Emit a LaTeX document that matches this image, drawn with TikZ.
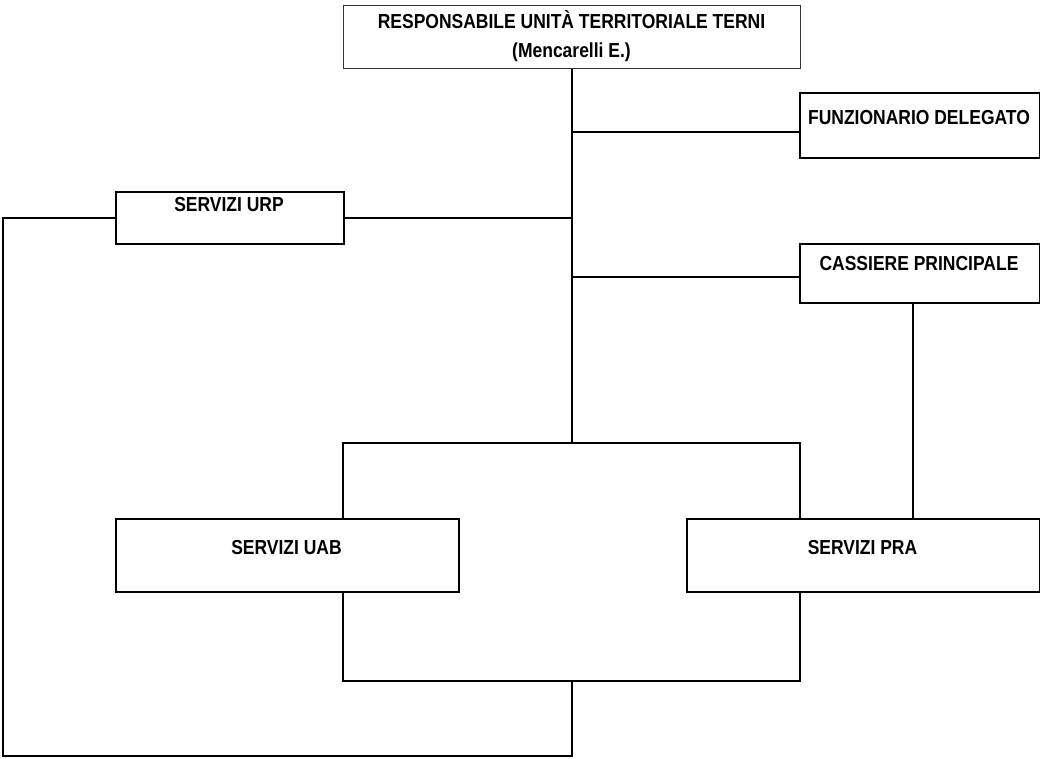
\documentclass[tikz,border=0pt]{standalone}
\usepackage{fontspec}
\setmainfont[FakeStretch=0.863]{Liberation Sans}
\begin{document}
\begin{tikzpicture}[x=0.75pt,y=-0.75pt,
  box/.style={draw=black,line width=1.5pt,inner sep=0pt,anchor=north west},
  lbl/.style={font=\fontsize{15.2}{17}\selectfont\bfseries,inner sep=0pt},
  thick line/.style={line width=2pt,line join=miter},
  thin line/.style={line width=1.4pt,line join=miter}]
\useasboundingbox (0,0) rectangle (1040,758);
% boxes
\node[box,draw=black!80,line width=1.1pt,minimum width=457*0.75pt,minimum height=63*0.75pt] (top) at (343,5) {};
\node[box,minimum width=240*0.75pt,minimum height=65*0.75pt] (funz) at (799,92) {};
\node[box,minimum width=240*0.75pt,minimum height=59*0.75pt] (cass) at (799,243) {};
\node[box,minimum width=228*0.75pt,minimum height=52*0.75pt] (urp) at (115,191) {};
\node[box,minimum width=343*0.75pt,minimum height=73*0.75pt] (uab) at (115,518) {};
\node[box,minimum width=353*0.75pt,minimum height=73*0.75pt] (pra) at (686,518) {};
% texts
\node[lbl] (topA) at (571.5,20) {RESPONSABILE UNITÀ TERRITORIALE TERNI};
\node[lbl] (topB) at (571.5,52) {(Mencarelli E.)};
\node[lbl] (funzT) at (919,118) {FUNZIONARIO DELEGATO};
\node[lbl] (cassT) at (919,264) {CASSIERE PRINCIPALE};
\node[lbl] (urpT) at (229,205) {SERVIZI URP};
\node[lbl] (uabT) at (286.5,548) {SERVIZI UAB};
\node[lbl] (praT) at (862.5,548) {SERVIZI PRA};
% junction coordinates
\coordinate (tF) at (572,132);
\coordinate (tU) at (572,218);
\coordinate (tC) at (572,277);
\coordinate (tB) at (572,443);
\coordinate (bB) at (572,681);
\coordinate (lowL) at (3,756);
% connectors
\draw[thick line] (top.south -| tB) -- (tB);
\draw[thin line] (tF) -- (tF -| funz.west);
\draw[thick line] (tU) -- (tU -| urp.east);
\draw[thin line] (tC) -- (tC -| cass.west);
\draw[thin line] (cass.south -| 913,0) -- (pra.north -| 913,0);
\draw[thick line] (uab.north -| 343,0) -- (343,443) -- (686,443);
\draw[thin line] (686,443) -- (800,443) -- (pra.north -| 800,0);
\draw[thin line] (uab.south -| 343,0) -- (343,681) -- (800,681) -- (pra.south -| 800,0);
\draw[thick line] (bB) -- (bB |- lowL) -- (lowL) -- (lowL |- tU) -- (tU -| urp.west);
\end{tikzpicture}
\end{document}
